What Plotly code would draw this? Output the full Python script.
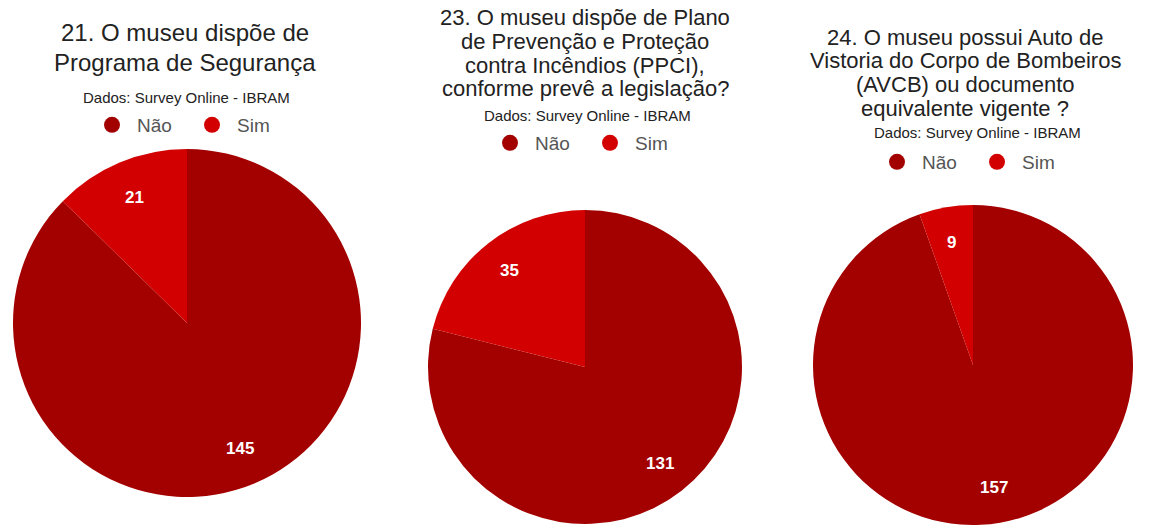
import math
import plotly.graph_objects as go

# Survey answers (Não / Sim) for three museum safety questions
labels = ["Não", "Sim"]
slice_colors = ["#a30000", "#d20000"]

q21_values = [145, 21]
q23_values = [131, 35]
q24_values = [157, 9]

q21_title = ["21. O museu dispõe de", "Programa de Segurança"]
q23_title = [
    "23. O museu dispõe de Plano",
    "de Prevenção e Proteção",
    "contra Incêndios (PPCI),",
    "conforme prevê a legislação?",
]
q24_title = [
    "24. O museu possui Auto de",
    "Vistoria do Corpo de Bombeiros",
    "(AVCB) ou documento",
    "equivalente vigente ?",
]
source_note = "Dados: Survey Online - IBRAM"

W, H = 1153, 525
FONT = "Liberation Sans, Arial, sans-serif"
LABEL_RADIUS = 0.78  # value labels sit at this fraction of the pie radius

# Layout of each panel in pixels: pie centre, radius, title line positions
panels = [
    dict(values=q21_values, title=q21_title, cx=187, cy=323, r=174,
         tx=185, ty=[33, 62], tsize=24, sx=186, sy=97, lx=112, ly=125,
         legend="legend"),
    dict(values=q23_values, title=q23_title, cx=585, cy=367, r=157,
         tx=585, ty=[18, 41.5, 65, 88.5], tsize=22, sx=587, sy=115, lx=510,
         ly=143, legend="legend2"),
    dict(values=q24_values, title=q24_title, cx=973, cy=365, r=160,
         tx=965, ty=[37, 61, 85, 108.5], tsize=22, sx=977, sy=132, lx=897,
         ly=162, legend="legend3"),
]

fig = go.Figure()
annotations = []
legends = {}

for p in panels:
    x0, x1 = (p["cx"] - p["r"]) / W, (p["cx"] + p["r"]) / W
    y0, y1 = 1 - (p["cy"] + p["r"]) / H, 1 - (p["cy"] - p["r"]) / H
    fig.add_trace(go.Pie(
        labels=labels,
        values=p["values"],
        sort=False,
        direction="clockwise",
        rotation=0,
        marker=dict(colors=slice_colors, line=dict(width=0)),
        textinfo="none",
        domain=dict(x=[x0, x1], y=[max(y0, 0), min(y1, 1)]),
        showlegend=False,
        hoverinfo="label+value+percent",
    ))

    # value labels placed along each slice's mid-angle
    total = sum(p["values"])
    cum = 0
    for v in p["values"]:
        theta = math.radians((cum + v / 2) / total * 360)
        cum += v
        px = p["cx"] + LABEL_RADIUS * p["r"] * math.sin(theta)
        py = p["cy"] - LABEL_RADIUS * p["r"] * math.cos(theta)
        annotations.append(dict(
            text=str(v), x=px / W, y=1 - py / H, xref="paper", yref="paper",
            xanchor="center", yanchor="middle", showarrow=False,
            font=dict(family=FONT, size=17, color="white", weight="bold"),
        ))

    # circular legend markers
    for lab, col in zip(labels, slice_colors):
        fig.add_trace(go.Scatter(
            x=[None], y=[None], mode="markers", name=lab,
            marker=dict(symbol="circle", size=16, color=col),
            legend=p["legend"], showlegend=True, hoverinfo="skip",
        ))

    for line, y in zip(p["title"], p["ty"]):
        annotations.append(dict(
            text=line, x=p["tx"] / W, y=1 - y / H, xref="paper", yref="paper",
            xanchor="center", yanchor="middle", showarrow=False,
            font=dict(family=FONT, size=p["tsize"], color="#222222"),
        ))
    annotations.append(dict(
        text=source_note, x=p["sx"] / W, y=1 - p["sy"] / H, xref="paper",
        yref="paper", xanchor="center", yanchor="middle", showarrow=False,
        font=dict(family=FONT, size=15, color="#222222"),
    ))
    legends[p["legend"]] = dict(
        orientation="h", x=(p["lx"] - 25) / W, y=1 - p["ly"] / H,
        xanchor="left", yanchor="middle", bgcolor="rgba(0,0,0,0)",
        itemwidth=40, entrywidth=45, entrywidthmode="pixels",
        font=dict(family=FONT, size=19, color="#555555"),
        traceorder="normal", itemclick=False, itemdoubleclick=False,
    )

fig.update_layout(
    width=W, height=H,
    margin=dict(l=0, r=0, t=0, b=0),
    paper_bgcolor="white", plot_bgcolor="white",
    xaxis=dict(visible=False), yaxis=dict(visible=False),
    annotations=annotations,
    **legends,
)

fig.write_html("out.html")
